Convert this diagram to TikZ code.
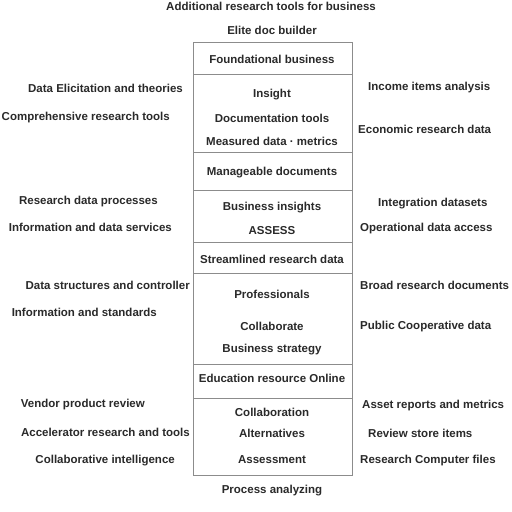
\documentclass[tikz,border=0pt]{standalone}
\usepackage{fontspec}
\setmainfont{Liberation Sans}
\definecolor{ink}{HTML}{2A2A2A}
\definecolor{frame}{HTML}{8C8C8C}
\begin{document}
\begin{tikzpicture}[x=1pt,y=-1pt,
  txt/.style={inner sep=0pt,text=ink,font=\fontsize{11.5}{13}\selectfont\bfseries},
  seg/.style={draw=frame,line width=0.8pt,minimum width=159pt,inner sep=0pt,anchor=north}]
\useasboundingbox[fill=white] (0,0) rectangle (512,512);
% title
\node[txt] (t1) at (271,6) {Additional research tools for business};
\node[txt] (t2) at (272,30) {Elite doc builder};
% central column segments
\node[seg,minimum height=32pt] (s1) at (272.5,42) {};
\node[seg,minimum height=78pt] (s2) at (272.5,74) {};
\node[seg,minimum height=38pt] (s3) at (272.5,152) {};
\node[seg,minimum height=52pt] (s4) at (272.5,190) {};
\node[seg,minimum height=31pt] (s5) at (272.5,242) {};
\node[seg,minimum height=91pt] (s6) at (272.5,273) {};
\node[seg,minimum height=34pt] (s7) at (272.5,364) {};
\node[seg,minimum height=77pt] (s8) at (272.5,398) {};
% column texts
\node[txt] (c1) at (272,59) {Foundational business};
\node[txt] (c2a) at (272,95) {Insight};
\node[txt] (c2b) at (272,118) {Documentation tools};
\node[txt] (c2c) at (272,141) {Measured data · metrics};
\node[txt] (c3) at (272,173) {Manageable documents};
\node[txt] (c4a) at (272,208) {Business insights};
\node[txt] (c4b) at (272,231) {ASSESS};
\node[txt] (c5) at (272,259) {Streamlined research data};
\node[txt] (c6a) at (272,294) {Professionals};
\node[txt] (c6b) at (272,326) {Collaborate};
\node[txt] (c6c) at (272,350) {Business strategy};
\node[txt] (c7) at (272,378) {Education resource Online};
\node[txt] (c8a) at (272,412) {Collaboration};
\node[txt] (c8b) at (272,433) {Alternatives};
\node[txt] (c8c) at (272,460) {Assessment};
\node[txt] (b1) at (272,491) {Process analyzing};
% left texts
\node[txt,anchor=east] (l1a) at (183,88) {Data Elicitation and theories};
\node[txt,anchor=east] (l1b) at (170,118) {Comprehensive research tools};
\node[txt,anchor=east] (l2a) at (158,202) {Research data processes};
\node[txt,anchor=east] (l2b) at (172,227) {Information and data services};
\node[txt,anchor=east] (l3a) at (190,285) {Data structures and controller};
\node[txt,anchor=east] (l3b) at (157,312) {Information and standards};
\node[txt,anchor=east] (l4a) at (145,405) {Vendor product review};
\node[txt,anchor=east] (l4b) at (190,432) {Accelerator research and tools};
\node[txt,anchor=east] (l4c) at (175,461) {Collaborative intelligence};
% right texts
\node[txt,anchor=west] (r1a) at (368,88) {Income items analysis};
\node[txt,anchor=west] (r1b) at (358,129) {Economic research data};
\node[txt,anchor=west] (r2a) at (378,204) {Integration datasets};
\node[txt,anchor=west] (r2b) at (360,229) {Operational data access};
\node[txt,anchor=west] (r3a) at (360,285) {Broad research documents};
\node[txt,anchor=west] (r3b) at (360,327) {Public Cooperative data};
\node[txt,anchor=west] (r4a) at (362,406) {Asset reports and metrics};
\node[txt,anchor=west] (r4b) at (368,433) {Review store items};
\node[txt,anchor=west] (r4c) at (360,461) {Research Computer files};
\end{tikzpicture}
\end{document}
